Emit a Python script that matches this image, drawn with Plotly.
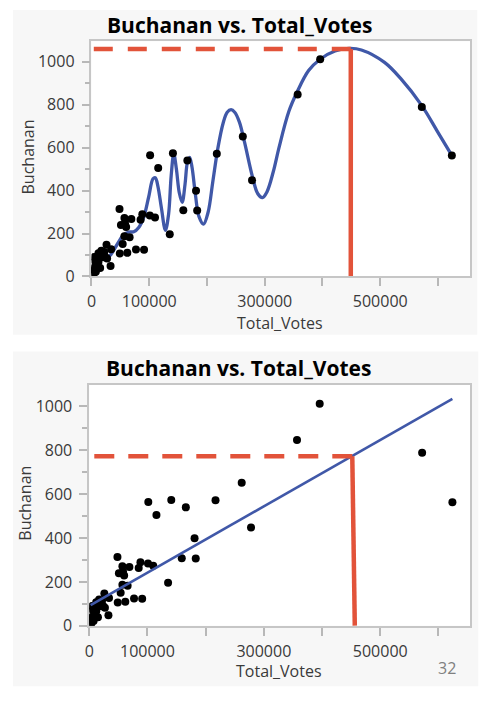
import plotly.graph_objects as go

# the page body keeps its default 8px margin, so the figure is drawn
# 8px smaller and all pixel positions below are page positions
OFF = 8
W, H = 502 - OFF, 710 - OFF

# county points (Total_Votes, Buchanan)
total_votes = [85000, 8000, 58000, 8700, 217000, 572000, 5000, 66000, 57000, 57000,
               91000, 20000, 624000, 8000, 4600, 262000, 115500, 27000, 4600, 15000,
               5400, 3400, 5900, 3900, 6200, 7500, 51000, 34000, 357000, 7400,
               49000, 16000, 5600, 2500, 88000, 183000, 101000, 12000, 2400, 6700,
               110000, 101500, 62000, 33000, 24000, 69000, 10000, 278000, 54000, 141000,
               396000, 166000, 26000, 60000, 77000, 48500, 159000, 135500, 22000, 12000,
               7000, 3800, 181000, 8600, 17000, 7000]
buchanan = [264, 73, 248, 65, 572, 789, 90, 183, 272, 187,
            124, 89, 563, 36, 29, 652, 505, 83, 33, 39,
            29, 9, 71, 24, 30, 22, 240, 127, 847, 76,
            107, 102, 29, 10, 290, 307, 284, 67, 39, 29,
            274, 565, 110, 48, 90, 268, 43, 448, 151, 574,
            1012, 540, 148, 230, 125, 314, 308, 197, 114, 108,
            27, 37, 399, 46, 120, 88]

# smoothing spline (top panel)
spline_x = [1500, 10300, 15500, 23000, 33000, 44600, 56000, 64700, 73200, 81800,
            90400, 99000, 106500, 110500, 115000, 121000, 128000, 133500, 138000, 142500,
            147000, 152000, 157000, 162000, 166000, 170000, 174000, 180000, 186000, 194000,
            202000, 210000, 219000, 228000, 235000, 241700, 248000, 256000, 264600, 278900,
            288000, 296000, 304000, 315000, 324600, 341700, 356000, 376000, 396000, 421700,
            446000, 467400, 507400, 536000, 571400, 598900, 623400]
spline_y = [15, 85, 97, 78, 100, 150, 195, 207, 208, 228,
            275, 370, 455, 460, 420, 320, 215, 290, 470, 572,
            500, 390, 345, 430, 530, 555, 510, 380, 280, 244,
            300, 440, 600, 715, 765, 777, 765, 720, 630, 462,
            385, 367, 395, 490, 599, 768, 859, 959, 1012, 1050,
            1062, 1055, 997, 920, 798, 676, 566]

# linear fit (bottom panel), end points
fit_x = [2400, 624000]
fit_y = [95, 1034]

# red guide lines
top_guide_x = [449000, 0]
top_guide_y = [1060, 1060]
top_drop_x = [449000, 449000]
top_drop_y = [1060, 0]
bot_guide_x = [452000, 0]
bot_guide_y = [773, 773]
bot_drop_x = [452000, 456300]
bot_drop_y = [773, 0]

x_ticks = [0, 100000, 200000, 300000, 400000, 500000, 600000]
x_ticktext = ["0", "100000", "", "300000", "", "500000", ""]
y_ticks = [0, 200, 400, 600, 800, 1000]
y_minor = [100, 300, 500, 700, 900]

RED = "#e2533a"
BLUE = "#4058a8"
FONT = "Open Sans"


def px(x):
    return (x - OFF) / W


def py(y):
    return 1 - (y - OFF) / H


fig = go.Figure()

# top panel
fig.add_trace(go.Scatter(x=spline_x, y=spline_y, mode="lines",
                         line=dict(color=BLUE, width=3.3, shape="spline", smoothing=1.0),
                         xaxis="x", yaxis="y", hoverinfo="skip"))
fig.add_trace(go.Scatter(x=total_votes, y=buchanan, mode="markers",
                         marker=dict(color="black", size=8),
                         xaxis="x", yaxis="y"))
fig.add_trace(go.Scatter(x=top_guide_x, y=top_guide_y, mode="lines",
                         line=dict(color=RED, width=4.5, dash="19px,15px"),
                         xaxis="x", yaxis="y"))
fig.add_trace(go.Scatter(x=top_drop_x, y=top_drop_y, mode="lines",
                         line=dict(color=RED, width=4.5),
                         xaxis="x", yaxis="y"))

# bottom panel
fig.add_trace(go.Scatter(x=total_votes, y=buchanan, mode="markers",
                         marker=dict(color="black", size=8),
                         xaxis="x2", yaxis="y2"))
fig.add_trace(go.Scatter(x=fit_x, y=fit_y, mode="lines",
                         line=dict(color=BLUE, width=2.6),
                         xaxis="x2", yaxis="y2"))
fig.add_trace(go.Scatter(x=bot_guide_x, y=bot_guide_y, mode="lines",
                         line=dict(color=RED, width=4.5, dash="20px,14px"),
                         xaxis="x2", yaxis="y2"))
fig.add_trace(go.Scatter(x=bot_drop_x, y=bot_drop_y, mode="lines",
                         line=dict(color=RED, width=4.5),
                         xaxis="x2", yaxis="y2"))

axis_common = dict(showline=True, mirror=True, linecolor="#c6c6c6", linewidth=1.5,
                   ticks="outside", ticklen=8, tickwidth=1.5, tickcolor="#b8b8b8",
                   showgrid=False, zeroline=False, fixedrange=True,
                   tickfont=dict(family=FONT, size=16, color="#3a3a3a"))

xa = dict(axis_common, tickmode="array", tickvals=x_ticks, ticktext=x_ticktext,
          ticklabelstandoff=2)
ya = dict(axis_common, tickmode="array", tickvals=y_ticks, ticklabelstandoff=4,
          minor=dict(tickmode="array", tickvals=y_minor, ticks="outside",
                     ticklen=5, tickwidth=1.5, tickcolor="#b8b8b8"))

fig.update_layout(
    width=W, height=H,
    margin=dict(l=0, r=0, t=0, b=0),
    paper_bgcolor="white", plot_bgcolor="white",
    showlegend=False,
    xaxis=dict(xa, domain=[px(87.3), px(470)], range=[0, 656000], anchor="y"),
    yaxis=dict(ya, domain=[py(280.7), py(41.7)], range=[0, 1096], anchor="x"),
    xaxis2=dict(xa, domain=[px(85), px(470)], range=[0, 654800], anchor="y2"),
    yaxis2=dict(ya, domain=[py(635.7), py(390.7)], range=[0, 1099], anchor="x2"),
    shapes=[
        dict(type="rect", xref="paper", yref="paper", layer="below",
             x0=px(8), x1=px(477), y0=py(340), y1=py(10),
             fillcolor="#f7f7f7", line=dict(width=0)),
        dict(type="rect", xref="paper", yref="paper", layer="below",
             x0=px(8), x1=px(478), y0=py(697), y1=py(357),
             fillcolor="#f7f7f7", line=dict(width=0)),
        dict(type="rect", xref="paper", yref="paper", layer="below",
             x0=px(87.3), x1=px(470), y0=py(280.7), y1=py(41.7),
             fillcolor="white", line=dict(width=0)),
        dict(type="rect", xref="paper", yref="paper", layer="below",
             x0=px(85), x1=px(470), y0=py(635.7), y1=py(390.7),
             fillcolor="white", line=dict(width=0)),
    ],
)

title_font = dict(family=FONT, size=21, color="black")
label_font = dict(family=FONT, size=16, color="#3a3a3a")
notes = [
    ("<b>Buchanan vs. Total_Votes</b>", 236.7, 25, title_font, 0),
    ("<b>Buchanan vs. Total_Votes</b>", 236, 373.3, title_font, 0),
    ("Total_Votes", 278, 328, label_font, 0),
    ("Total_Votes", 277, 682, label_font, 0),
    ("Buchanan", 23, 159, label_font, -90),
    ("Buchanan", 20.7, 511, label_font, -90),
    ("32", 446, 678, dict(family=FONT, size=16, color="#808080"), 0),
]
for text, x, y, font, ang in notes:
    fig.add_annotation(text=text, x=px(x), y=py(y), xref="paper", yref="paper",
                       xanchor="center", yanchor="middle", showarrow=False,
                       font=font, textangle=ang)

fig.write_html("out.html")
